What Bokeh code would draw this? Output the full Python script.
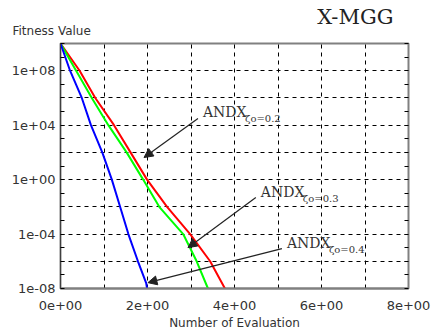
from bokeh.plotting import figure
from bokeh.models import (FixedTicker, CustomJSTickFormatter, LogAxis, Arrow, NormalHead, Label, Title)
from bokeh.embed import file_html
from bokeh.resources import INLINE

# ---- data (x = number of evaluations, y = log10 of fitness value) ----
blue_x = [0.0, 0.22, 0.49, 0.70, 0.96, 1.18, 1.37, 1.56, 1.78, 1.97, 1.99]
blue_log = [10, 8, 6, 4, 2, 0, -2, -4, -6, -7.6, -8]
green_x = [0.0, 0.36, 0.72, 1.10, 1.52, 1.90, 2.27, 2.82, 3.13, 3.39]
green_log = [10, 8, 6, 4, 2, 0, -2, -4, -6, -8]
red_x = [0.0, 0.44, 0.80, 1.23, 1.61, 1.99, 2.45, 2.98, 3.44, 3.78]
red_log = [10, 8, 6, 4, 2, 0, -2, -4, -6, -8]

x_ticks = [0, 2, 4, 6, 8]
y_label_exps = [-8, -4, 0, 4, 8]

# annotation arrows: (tail x, tail log10 y, head x, head log10 y), label text
ann_names = ["ζo=0.2", "ζo=0.3", "ζo=0.4"]
ann_tail_x = [3.16, 4.49, 5.09]
ann_tail_log = [4.49, -1.32, -5.07]
ann_head_x = [1.92, 2.93, 2.01]
ann_head_log = [1.62, -5.0, -7.57]

title_text = "X-MGG"
y_title = "Fitness Value"
x_title = "Number of Evaluation"

p = figure(width=433, height=334, output_backend="svg", toolbar_location=None,
           y_axis_type="log", x_range=(0, 8), y_range=(1e-8, 1e10),
           min_border_left=60, min_border_right=25, min_border_top=43, min_border_bottom=46)
p.background_fill_color = "white"
p.border_fill_color = "white"
p.outline_line_color = "#808080"
p.outline_line_width = 2

for xs, ls, col in [(red_x, red_log, "#ff0000"), (green_x, green_log, "#00ff00"), (blue_x, blue_log, "#0000ff")]:
    p.line(xs, [10.0 ** v for v in ls], line_color=col, line_width=2)

# axes
p.xaxis.ticker = FixedTicker(ticks=x_ticks)
p.xaxis.formatter = CustomJSTickFormatter(code="return tick.toFixed(0) + 'e+00';")
p.xaxis.major_tick_in = 0
p.xaxis.major_tick_out = 0
p.xaxis.minor_tick_in = 0
p.xaxis.minor_tick_out = 0
p.xaxis.axis_line_color = "#808080"
p.xaxis.axis_line_width = 2
p.xaxis.major_label_standoff = 12
p.xaxis.axis_label = x_title
p.xaxis.axis_label_standoff = 3

decades = [10.0 ** k for k in range(-8, 11)]
p.yaxis.ticker = FixedTicker(ticks=decades)
p.yaxis.formatter = CustomJSTickFormatter(args=dict(show=y_label_exps), code="""
const e = Math.round(Math.log10(tick));
if (!show.includes(e)) return ' ';
const a = Math.abs(e);
return '1e' + (e < 0 ? '-' : '+') + (a < 10 ? '0' : '') + a;
""")
p.yaxis.major_tick_in = 4
p.yaxis.major_tick_out = 0
p.yaxis.minor_tick_in = 0
p.yaxis.minor_tick_out = 0
p.yaxis.axis_line_color = "#404040"
p.yaxis.major_label_standoff = 5

for ax in [p.xaxis[0], p.yaxis[0]]:
    ax.major_label_text_font = "DejaVu Sans"
    ax.major_label_text_font_size = "13px"
    ax.major_label_text_color = "#333333"
    ax.axis_label_text_font = "DejaVu Sans"
    ax.axis_label_text_font_size = "12px"
    ax.axis_label_text_font_style = "normal"
    ax.axis_label_text_color = "#333333"

right = LogAxis(ticker=FixedTicker(ticks=decades), major_label_text_color=None,
                major_tick_in=4, major_tick_out=0, minor_tick_in=0, minor_tick_out=0,
                axis_line_color="#808080", major_label_standoff=0)
p.add_layout(right, "right")

# grids
p.xgrid.ticker = FixedTicker(ticks=list(range(0, 9)))
p.ygrid.ticker = FixedTicker(ticks=[10.0 ** k for k in range(-8, 11, 2)])
for g in [p.xgrid[0], p.ygrid[0]]:
    g.grid_line_color = "#000000"
    g.grid_line_dash = "4 4"
    g.grid_line_width = 1

# annotations
for name, tx, tl, hx, hl in zip(ann_names, ann_tail_x, ann_tail_log, ann_head_x, ann_head_log):
    p.add_layout(Arrow(x_start=tx, y_start=10.0 ** tl, x_end=hx, y_end=10.0 ** hl,
                       line_color="#222222", line_width=1.2,
                       end=NormalHead(size=9, fill_color="#222222", line_color="#222222")))
    p.add_layout(Label(x=tx, y=10.0 ** tl, text="ANDX", x_offset=5, y_offset=-2,
                       text_font="DejaVu Serif", text_font_size="14px", text_color="#333333",
                       text_baseline="bottom"))
    p.add_layout(Label(x=tx, y=10.0 ** tl, text=name, x_offset=47, y_offset=-6,
                       text_font="DejaVu Serif", text_font_size="10px", text_color="#333333",
                       text_baseline="bottom"))

# chart title (outer) and y title (nearest the frame)
p.title = Title(text=title_text, align="right", offset=15, standoff=-24,
                text_font="DejaVu Serif", text_font_size="21px", text_font_style="normal",
                text_color="#222222")
p.add_layout(Title(text=y_title, align="left", offset=-48, standoff=11,
                   text_font="DejaVu Sans", text_font_size="12px", text_font_style="normal",
                   text_color="#333333"), "above")

open("out.html", "w").write(file_html(p, INLINE))
